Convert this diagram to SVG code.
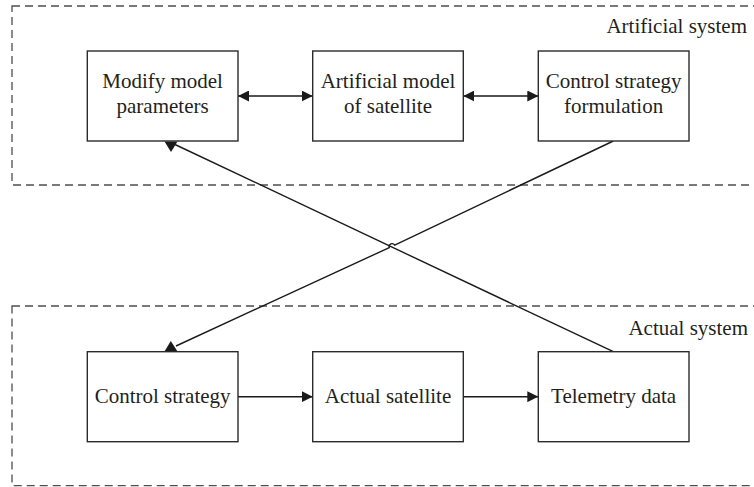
<svg xmlns="http://www.w3.org/2000/svg" width="754" height="487" viewBox="0 0 754 487">
  <defs>
    <style>
      .frame { fill: none; stroke: #4d4d4d; stroke-width: 1.3; stroke-dasharray: 8 5; }
      .box { fill: #ffffff; stroke: #2b2b2b; stroke-width: 1.4; }
      .lbl { font-family: "Liberation Serif", "Times New Roman", serif; font-size: 21px; fill: #231f20; text-anchor: middle; }
      .sys { font-family: "Liberation Serif", "Times New Roman", serif; font-size: 21px; fill: #231f20; text-anchor: end; }
      .wire { fill: none; stroke: #1a1a1a; stroke-width: 1.4; }
      .head { fill: #1a1a1a; stroke: none; }
    </style>
    <marker id="arrow" viewBox="0 0 11 11" refX="11" refY="5.5" markerWidth="11" markerHeight="11" markerUnits="userSpaceOnUse" orient="auto-start-reverse">
      <path d="M0,0 L11,5.5 L0,11 Z" class="head"/>
    </marker>
  </defs>

  <!-- system frames (right edge runs off the canvas) -->
  <g id="artificial-system">
    <rect class="frame" x="12" y="6" width="760" height="179"/>
    <text class="sys" x="747" y="33">Artificial system</text>
  </g>
  <g id="actual-system">
    <rect class="frame" x="12" y="306" width="760" height="179.7"/>
    <text class="sys" x="748" y="335">Actual system</text>
  </g>

  <!-- connectors -->
  <g id="connectors">
    <line class="wire" x1="238" y1="96" x2="312.7" y2="96" marker-start="url(#arrow)" marker-end="url(#arrow)"/>
    <line class="wire" x1="463.3" y1="96" x2="538.3" y2="96" marker-start="url(#arrow)" marker-end="url(#arrow)"/>
    <line class="wire" x1="238" y1="396.7" x2="312.7" y2="396.7" marker-end="url(#arrow)"/>
    <line class="wire" x1="463.3" y1="396.7" x2="538.3" y2="396.7" marker-end="url(#arrow)"/>
    <!-- telemetry data back to model parameters -->
    <line class="wire" x1="613.3" y1="351.7" x2="175" y2="144.5"/>
    <polygon class="head" points="164.5,141.5 177.5,141.5 171,152"/>
    <!-- formulated strategy down to control strategy, hopping over the other wire -->
    <path class="wire" d="M613.3,141 L394.7,245.1 A3,3 0 0 0 389.3,247.6 L176,346"/>
    <polygon class="head" points="164.3,351.7 177.7,351.7 170.8,341"/>
  </g>

  <!-- nodes -->
  <g id="modify-model-parameters">
    <rect class="box" x="87.3" y="51" width="150.7" height="90"/>
    <text class="lbl" x="162.6" y="88">Modify model</text>
    <text class="lbl" x="162.6" y="113">parameters</text>
  </g>
  <g id="artificial-model">
    <rect class="box" x="312.7" y="51" width="150.6" height="90"/>
    <text class="lbl" x="388" y="88">Artificial model</text>
    <text class="lbl" x="388" y="113">of satellite</text>
  </g>
  <g id="control-strategy-formulation">
    <rect class="box" x="538.3" y="51" width="150.7" height="90"/>
    <text class="lbl" x="613.6" y="88">Control strategy</text>
    <text class="lbl" x="613.6" y="113">formulation</text>
  </g>
  <g id="control-strategy">
    <rect class="box" x="87.3" y="351.7" width="150.7" height="90"/>
    <text class="lbl" x="162.6" y="403">Control strategy</text>
  </g>
  <g id="actual-satellite">
    <rect class="box" x="312.7" y="351.7" width="150.6" height="90"/>
    <text class="lbl" x="388" y="403">Actual satellite</text>
  </g>
  <g id="telemetry-data">
    <rect class="box" x="538.3" y="351.7" width="150.7" height="90"/>
    <text class="lbl" x="613.6" y="403">Telemetry data</text>
  </g>
</svg>
